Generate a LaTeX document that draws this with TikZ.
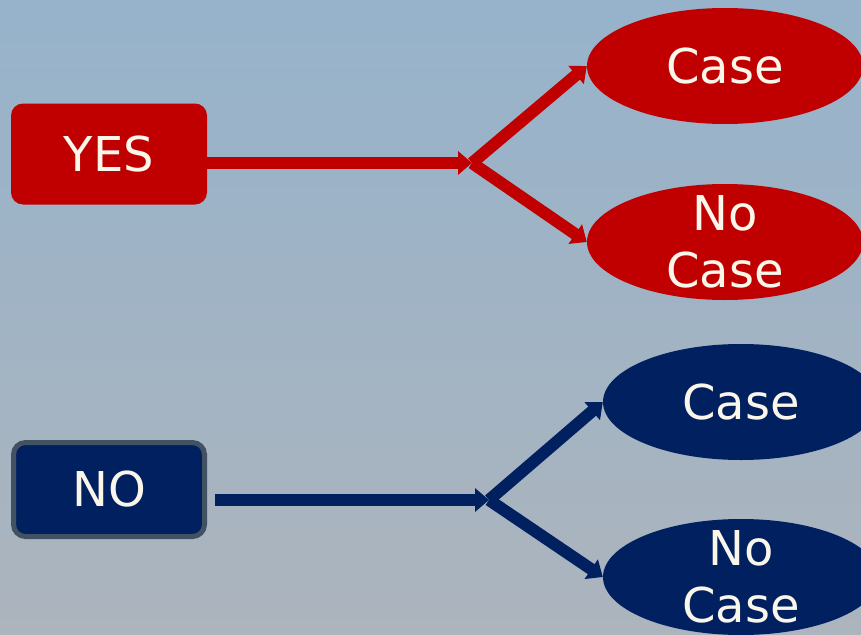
\documentclass[tikz,border=0pt]{standalone}
\usepackage{fontspec}
\setmainfont{DejaVu Sans}
\usetikzlibrary{shapes.geometric, arrows.meta, positioning}

\definecolor{yesred}{RGB}{192,0,0}
\definecolor{nonavy}{RGB}{0,32,96}
\definecolor{noedge}{RGB}{66,82,98}
\definecolor{cream}{RGB}{250,246,234}
\definecolor{skytop}{RGB}{150,179,203}
\definecolor{skybottom}{RGB}{172,180,189}

\begin{document}
\begin{tikzpicture}[
x=1pt, y=-1pt,
every node/.style={font=\fontsize{48}{57}\selectfont, text=cream, align=center},
answer/.style={rectangle, rounded corners=12pt, minimum width=196pt, minimum height=101pt, inner sep=0pt},
outcome/.style={ellipse, minimum width=276pt, minimum height=116pt, inner sep=-25pt},
arrow/.style={-{Triangle[length=14pt, width=23pt]}, line width=12pt}
]
% Background
\shade[top color=skytop, bottom color=skybottom] (0,0) rectangle (861,634);
\useasboundingbox (0,0) rectangle (861,634);

% YES branch
\node[answer, fill=yesred] (yes) at (109,154) {YES};
\node[outcome, fill=yesred] (yescase) at (725,66) {Case};
\node[outcome, fill=yesred] (yesnocase) at (725,242) {No\\Case};
\coordinate (yj) at (472,163);

% NO branch
\node[answer, fill=nonavy, draw=noedge, line width=5pt, minimum width=191pt, minimum height=94pt] (no) at (109,489.5) {NO};
\node[outcome, fill=nonavy] (nocase) at (741,402) {Case};
\node[outcome, fill=nonavy] (nonocase) at (741,577) {No\\Case};
\coordinate (nj) at (489,500);

% Arrows
\draw[arrow, yesred] (yes.east |- yj) -- (yj);
\draw[arrow, yesred] (yj) -- (yescase.west);
\draw[arrow, yesred] (yj) -- (yesnocase.west);
\draw[arrow, nonavy, shorten <=8pt] (no.east |- nj) -- (nj);
\draw[arrow, nonavy] (nj) -- (nocase.west);
\draw[arrow, nonavy] (nj) -- (nonocase.west);
\end{tikzpicture}
\end{document}
